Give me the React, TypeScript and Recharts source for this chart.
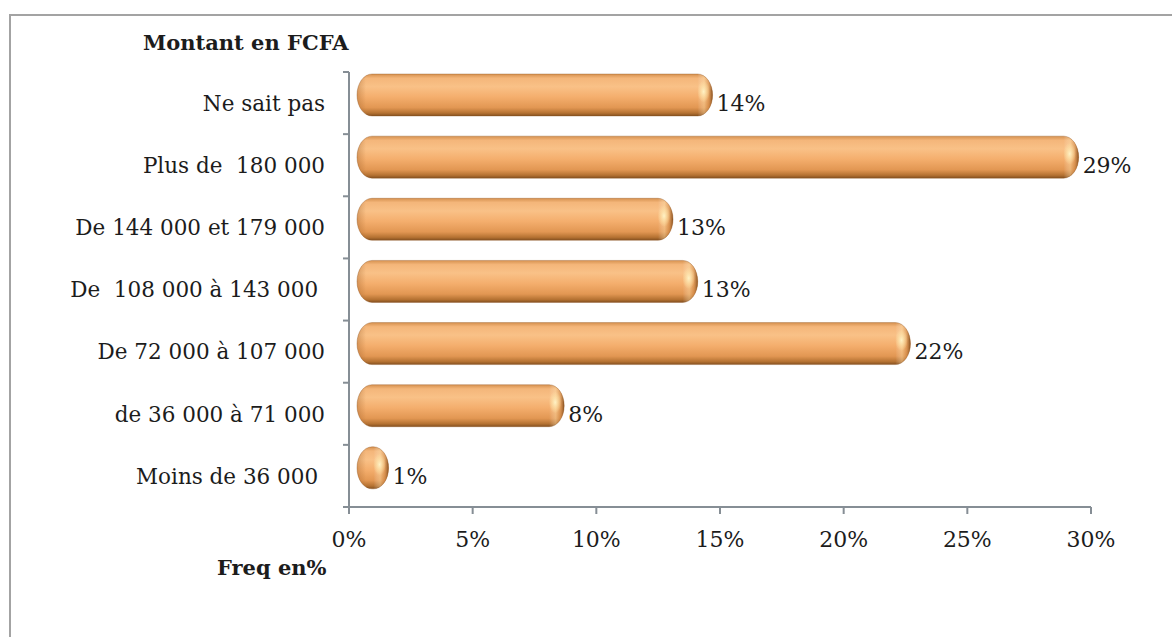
import React from 'react';
import { BarChart, Bar, XAxis, YAxis, LabelList } from 'recharts';

const categories = [
  'Ne sait pas',
  'Plus de  180 000',
  'De 144 000 et 179 000',
  'De  108 000 à 143 000 ',
  'De 72 000 à 107 000',
  'de 36 000 à 71 000',
  'Moins de 36 000 ',
];
const values = [14.7, 29.5, 13.1, 14.1, 22.7, 8.7, 1.6];
const valueLabels = ['14%', '29%', '13%', '13%', '22%', '8%', '1%'];
const xTicks = [0, 5, 10, 15, 20, 25, 30];
const yTitle = 'Montant en FCFA';
const xTitle = 'Freq en%';

const data = categories.map((name, i) => ({ name, value: values[i], label: valueLabels[i] }));

const W = 1172;
const H = 637;
const PLOT_TOP = 72;
const PLOT_BOTTOM = 507;
const AXIS_X = 349;
const PLOT_RIGHT = 1091;
const X_AXIS_H = 30;
const FONT = '"DejaVu Serif", serif';
const TEXT = '#1c1c1c';
const AXIS_COLOR = '#868e95';
const INSET = 8;
const LIFT = 8;

const YTick = (props: any) => {
  const { x, y, payload, index } = props;
  const band = (PLOT_BOTTOM - PLOT_TOP) / categories.length;
  return (
    <g>
      <text
        x={x}
        y={y}
        dy="0.36em"
        textAnchor="end"
        fontFamily={FONT}
        fontSize={21.5}
        fill={TEXT}
        style={{ whiteSpace: 'pre' }}
      >
        {payload.value}
      </text>
      <line x1={AXIS_X - 6} x2={AXIS_X} y1={y - band / 2} y2={y - band / 2} stroke={AXIS_COLOR} strokeWidth={2} />
      {index === categories.length - 1 && (
        <line x1={AXIS_X - 6} x2={AXIS_X} y1={y + band / 2} y2={y + band / 2} stroke={AXIS_COLOR} strokeWidth={2} />
      )}
    </g>
  );
};

const PillBar = (props: any) => {
  const { x, width, height } = props;
  const y = props.y - LIFT;
  const x0 = x + INSET;
  const x1 = x + width;
  const w = Math.max(x1 - x0, 4);
  const h = height;
  const rx = Math.min(15, w / 2);
  const ry = h / 2;
  const d = `M${x0 + rx},${y} H${x1 - rx} A${rx},${ry} 0 0 1 ${x1 - rx},${y + h} H${x0 + rx} A${rx},${ry} 0 0 1 ${x0 + rx},${y} Z`;
  return (
    <g>
      <path d={d} fill="url(#barGrad)" />
      <ellipse cx={x0 + rx} cy={y + ry} rx={rx} ry={ry} fill="url(#leftCapGrad)" />
      <ellipse cx={x1 - rx} cy={y + ry} rx={rx} ry={ry} fill="url(#capGrad)" />
      <ellipse cx={x1 - rx * 0.6} cy={y + h * 0.42} rx={rx * 0.42} ry={h * 0.26} fill="url(#hiGrad)" />
      <path d={d} fill="none" stroke="rgba(140,80,30,0.35)" strokeWidth={1} />
    </g>
  );
};

export default function App() {
  return (
    <div
      style={{
        position: 'absolute',
        left: 0,
        top: 0,
        width: W,
        height: H,
        overflow: 'hidden',
        background: '#ffffff',
      }}
    >
      <div
        style={{
          position: 'absolute',
          left: 9,
          top: 14,
          width: 1300,
          height: 800,
          border: '2px solid #a3a3a3',
        }}
      />
      <div style={{ position: 'absolute', left: 0, top: 0 }}>
        <BarChart
          width={W}
          height={H}
          data={data}
          layout="vertical"
          margin={{ top: PLOT_TOP, bottom: H - PLOT_BOTTOM - X_AXIS_H, left: 0, right: W - PLOT_RIGHT }}
          barSize={42}
        >
          <defs>
            <linearGradient id="barGrad" x1="0" y1="0" x2="0" y2="1">
              <stop offset="0" stopColor="#d6914f" />
              <stop offset="0.1" stopColor="#f4b67a" />
              <stop offset="0.3" stopColor="#f9c187" />
              <stop offset="0.55" stopColor="#f4ae6d" />
              <stop offset="0.8" stopColor="#e29753" />
              <stop offset="0.93" stopColor="#b57232" />
              <stop offset="1" stopColor="#845020" />
            </linearGradient>
            <linearGradient id="capGrad" x1="0" y1="0" x2="1" y2="0">
              <stop offset="0" stopColor="#ffffff" stopOpacity="0" />
              <stop offset="0.5" stopColor="#ffffff" stopOpacity="0" />
              <stop offset="0.72" stopColor="#ffe9b8" stopOpacity="0.35" />
              <stop offset="0.86" stopColor="#c07a38" stopOpacity="0.35" />
              <stop offset="1" stopColor="#7a4618" stopOpacity="0.9" />
            </linearGradient>
            <linearGradient id="leftCapGrad" x1="0" y1="0" x2="1" y2="0">
              <stop offset="0" stopColor="#9a5c26" stopOpacity="0.35" />
              <stop offset="0.3" stopColor="#9a5c26" stopOpacity="0" />
              <stop offset="1" stopColor="#9a5c26" stopOpacity="0" />
            </linearGradient>
            <radialGradient id="hiGrad" cx="0.5" cy="0.5" r="0.5">
              <stop offset="0" stopColor="#fff4c8" stopOpacity="0.95" />
              <stop offset="0.6" stopColor="#fde2a6" stopOpacity="0.5" />
              <stop offset="1" stopColor="#fde2a6" stopOpacity="0" />
            </radialGradient>
          </defs>
          <XAxis
            type="number"
            domain={[0, 30]}
            ticks={xTicks}
            height={X_AXIS_H}
            tickFormatter={(v: number) => `${v}%`}
            axisLine={{ stroke: AXIS_COLOR, strokeWidth: 2 }}
            tickLine={{ stroke: AXIS_COLOR, strokeWidth: 2 }}
            tickSize={7}
            tickMargin={17}
            tick={{ fontFamily: FONT, fontSize: 22, fill: TEXT }}
            interval={0}
          />
          <YAxis
            type="category"
            dataKey="name"
            width={AXIS_X}
            axisLine={{ stroke: AXIS_COLOR, strokeWidth: 2 }}
            tickLine={false}
            tickSize={5}
            tickMargin={19}
            tick={<YTick />}
            interval={0}
          />
          <Bar dataKey="value" shape={<PillBar />} isAnimationActive={false}>
            <LabelList
              dataKey="label"
              position="right"
              offset={4}
              fontFamily={FONT}
              fontSize={22}
              fill={TEXT}
            />
          </Bar>
        </BarChart>
      </div>
      <div
        style={{
          position: 'absolute',
          left: 143,
          top: 28,
          height: 30,
          lineHeight: '30px',
          fontFamily: FONT,
          fontWeight: 'bold',
          fontSize: 21,
          color: TEXT,
          whiteSpace: 'pre',
        }}
      >
        {yTitle}
      </div>
      <div
        style={{
          position: 'absolute',
          left: 217,
          top: 553,
          height: 30,
          lineHeight: '30px',
          fontFamily: FONT,
          fontWeight: 'bold',
          fontSize: 21,
          color: TEXT,
          whiteSpace: 'pre',
        }}
      >
        {xTitle}
      </div>
    </div>
  );
}
